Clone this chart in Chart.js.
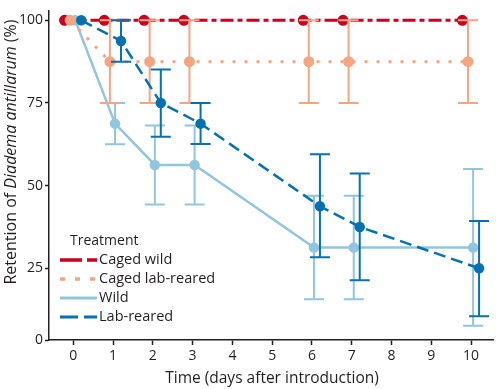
<!DOCTYPE html>
<html>
<head>
<meta charset="utf-8">
<script src="https://cdn.jsdelivr.net/npm/chart.js@4.4.1/dist/chart.umd.min.js"></script>
<style>
  html, body { margin: 0; padding: 0; background: #fff; }
  #wrap { width: 500px; height: 389px; }
</style>
</head>
<body>
<div id="wrap"><canvas id="retention" width="500" height="389"></canvas></div>
<script>
// days sampled
var days = [0, 1, 2, 3, 6, 7, 10];
var xTicks = [0, 1, 2, 3, 4, 5, 6, 7, 8, 9, 10];
var yTicks = [0, 25, 50, 75, 100];
var treatments = ["Caged wild", "Caged lab-reared", "Wild", "Lab-reared"];

// mean retention (%) and error bar ends
var cagedWild     = [100, 100, 100, 100, 100, 100, 100];
var cagedLab      = [100, 87.5, 87.5, 87.5, 87.5, 87.5, 87.5];
var cagedLabLow   = [100, 75, 75, 75, 75, 75, 75];
var cagedLabHigh  = [100, 100, 100, 100, 100, 100, 100];
var wild          = [100, 68.75, 56.25, 56.25, 31.25, 31.25, 31.25];
var wildLow       = [100, 62.5, 44.3, 44.3, 15.6, 15.6, 7.6];
var wildHigh      = [100, 75, 68.2, 68.2, 46.9, 46.9, 55];
var labReared     = [100, 93.75, 75, 68.75, 43.75, 37.5, 25];
var labRearedLow  = [100, 87.5, 64.8, 62.6, 28.3, 21.4, 10.5];
var labRearedHigh = [100, 100, 85.1, 75, 59.5, 53.7, 39.3];

var FONT = "'Open Sans', 'DejaVu Sans', sans-serif";
var INK = '#231f20';

function pts(vals, shift) {
  return days.map(function (d, i) { return { x: d + shift, y: vals[i] }; });
}

// error bars, drawn under each dataset
var errorBars = {
  id: 'errorBars',
  beforeDatasetDraw: function (chart, args) {
    var ds = chart.data.datasets[args.index];
    if (!ds.low) return;
    var ctx = chart.ctx, xs = chart.scales.x, ys = chart.scales.y;
    ctx.save();
    ctx.strokeStyle = ds.borderColor;
    ctx.lineWidth = 2;
    ctx.setLineDash([]);
    ds.data.forEach(function (p, i) {
      if (ds.low[i] === ds.high[i]) return;
      var px = xs.getPixelForValue(p.x);
      var y1 = ys.getPixelForValue(ds.low[i]);
      var y2 = ys.getPixelForValue(ds.high[i]);
      ctx.beginPath();
      ctx.moveTo(px, y1); ctx.lineTo(px, y2);
      ctx.moveTo(px - 10, y1); ctx.lineTo(px + 10, y1);
      ctx.moveTo(px - 10, y2); ctx.lineTo(px + 10, y2);
      ctx.stroke();
    });
    ctx.restore();
  }
};

// legend inside the plot, axis titles (y title has the italic species name)
var extras = {
  id: 'extras',
  afterDraw: function (chart) {
    var ctx = chart.ctx;
    ctx.save();
    ctx.fillStyle = INK;
    ctx.textBaseline = 'middle';
    ctx.font = '14px ' + FONT;
    ctx.fillText('Treatment', 70, 241);

    var order = [3, 1, 2, 0]; // dataset index per legend row
    order.forEach(function (di, row) {
      var ds = chart.data.datasets[di];
      var y = 260 + row * 19;
      ctx.strokeStyle = ds.borderColor;
      ctx.lineWidth = ds.borderWidth + 0.5;
      ctx.lineCap = 'butt';
      ctx.setLineDash(ds.legendDash);
      ctx.beginPath();
      ctx.moveTo(60, y); ctx.lineTo(97, y);
      ctx.stroke();
      ctx.setLineDash([]);
      ctx.fillStyle = INK;
      ctx.font = '14.5px ' + FONT;
      ctx.fillText(ds.label, 99, y);
    });

    ctx.font = '15.5px ' + FONT;
    ctx.textAlign = 'center';
    ctx.fillText('Time (days after introduction)', 272, 379);

    var parts = [['Retention of ', ''], ['Diadema antillarum', 'italic '], [' (%)', '']];
    var total = 0;
    parts.forEach(function (p) { ctx.font = p[1] + '16px ' + FONT; p.push(ctx.measureText(p[0]).width); total += p[2]; });
    ctx.translate(11, 152);
    ctx.rotate(-Math.PI / 2);
    var x = -total / 2;
    ctx.textAlign = 'left';
    parts.forEach(function (p) {
      ctx.font = p[1] + '16px ' + FONT;
      ctx.fillText(p[0], x, 0);
      x += p[2];
    });
    ctx.restore();
  }
};

new Chart(document.getElementById('retention'), {
  type: 'line',
  data: {
    datasets: [
      {
        label: treatments[3],
        data: pts(labReared, 0.2),
        low: labRearedLow, high: labRearedHigh,
        borderColor: '#0571b0', backgroundColor: '#0571b0',
        borderWidth: 2.5, borderDash: [12, 6], legendDash: [18, 6]
      },
      {
        label: treatments[1],
        data: pts(cagedLab, -0.08),
        low: cagedLabLow, high: cagedLabHigh,
        borderColor: '#f4a582', backgroundColor: '#f4a582',
        borderWidth: 3, borderDash: [3, 9], legendDash: [5, 10]
      },
      {
        label: treatments[2],
        data: pts(wild, 0.05),
        low: wildLow, high: wildHigh,
        borderColor: '#92c5de', backgroundColor: '#92c5de',
        borderWidth: 2.5, borderDash: [], legendDash: []
      },
      {
        label: treatments[0],
        data: pts(cagedWild, -0.22),
        borderColor: '#ca0020', backgroundColor: '#ca0020',
        borderWidth: 3, borderDash: [13, 4, 5, 4], legendDash: [22, 5, 10, 5]
      }
    ]
  },
  options: {
    responsive: false,
    devicePixelRatio: 1,
    animation: false,
    layout: { padding: { top: 5, right: 2, left: 0, bottom: 0 } },
    elements: {
      point: { radius: 4, borderWidth: 0, hoverRadius: 4 },
      line: { tension: 0, fill: false }
    },
    plugins: { legend: { display: false }, tooltip: { enabled: false } },
    scales: {
      x: {
        type: 'linear',
        min: -0.61, max: 10.55,
        afterBuildTicks: function (axis) { axis.ticks = xTicks.map(function (v) { return { value: v }; }); },
        afterFit: function (axis) { axis.height = 49; },
        ticks: { color: INK, font: { family: FONT, size: 14 }, padding: 3, maxRotation: 0, autoSkip: false },
        grid: { drawOnChartArea: false, drawTicks: true, tickLength: 5, color: INK, tickWidth: 1.5 },
        border: { display: true, color: INK, width: 1.5 }
      },
      y: {
        type: 'linear',
        min: 3.3, max: 103,
        afterBuildTicks: function (axis) {
          axis.ticks = yTicks.map(function (v) { return { value: Math.max(v, axis.min) }; });
        },
        afterFit: function (axis) { axis.width = 49; },
        ticks: {
          color: INK, font: { family: FONT, size: 14 }, padding: 2,
          callback: function (v, i) { return String(yTicks[i]); }
        },
        grid: { drawOnChartArea: false, drawTicks: true, tickLength: 4, color: INK, tickWidth: 1.5 },
        border: { display: true, color: INK, width: 1.5 }
      }
    }
  },
  plugins: [errorBars, extras]
});
</script>
</body>
</html>
